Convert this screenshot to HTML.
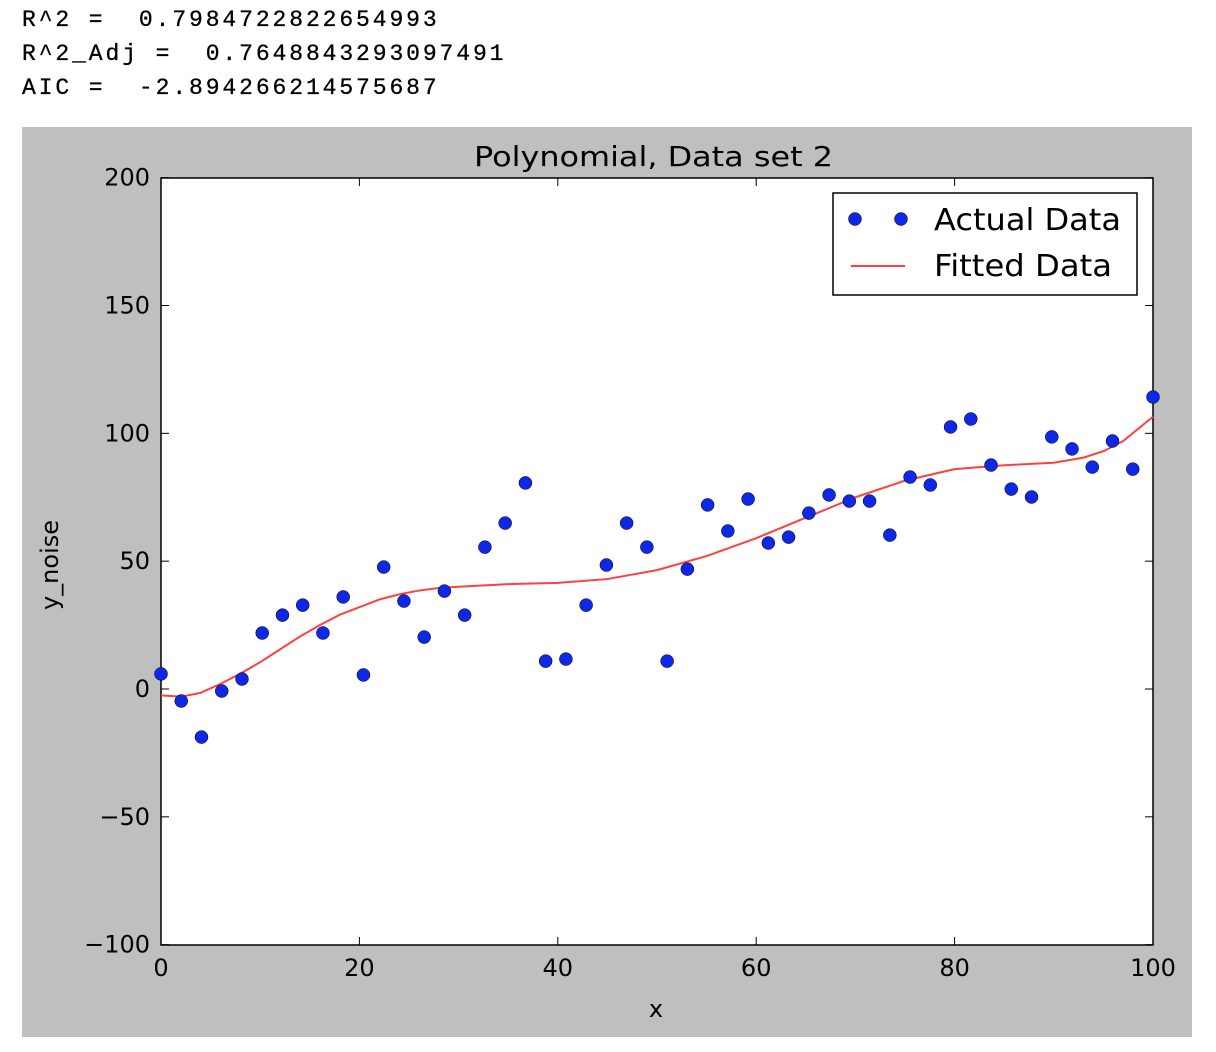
<!DOCTYPE html>
<html><head><meta charset="utf-8"><style>
body{margin:0;width:1216px;height:1052px;background:#fff;overflow:hidden;font-family:"DejaVu Sans","Liberation Sans",sans-serif}
pre{position:absolute;left:22px;top:3px;margin:0;font-family:"Liberation Mono","DejaVu Sans Mono",monospace;font-size:23px;letter-spacing:2.9px;line-height:34px;color:#000;-webkit-text-stroke:0.3px #000}
</style></head><body>
<pre>R^2 =  0.7984722822654993
R^2_Adj =  0.7648843293097491
AIC =  -2.894266214575687</pre>
<svg id="chart" width="1216" height="1052" style="position:absolute;left:0;top:0">
<rect x="22" y="127" width="1170" height="910" fill="#bfbfbf"/>
<rect x="161" y="178" width="992" height="767" fill="#fff" stroke="#000" stroke-width="1.5"/>
<g id="ticks"></g>
<g id="fit"></g>
<g id="pts"></g>
<text x="474" y="166" font-size="28" textLength="359" lengthAdjust="spacingAndGlyphs">Polynomial, Data set 2</text>
<text x="656" y="1017" font-size="24" text-anchor="middle">x</text>
<text transform="translate(58,565) rotate(-90)" font-size="24" text-anchor="middle">y_noise</text>
<g>
<rect x="833" y="193" width="304" height="102" fill="#fff" stroke="#000" stroke-width="1.5"/>
<circle cx="855" cy="219" r="6.5" fill="#0f28e6" stroke="#000" stroke-width="0.5"/>
<circle cx="901" cy="219" r="6.5" fill="#0f28e6" stroke="#000" stroke-width="0.5"/>
<text x="934" y="230" font-size="30" textLength="187" lengthAdjust="spacingAndGlyphs">Actual Data</text>
<line x1="851" y1="266" x2="905" y2="266" stroke="#ff4040" stroke-width="2"/>
<text x="934" y="276" font-size="30" textLength="178" lengthAdjust="spacingAndGlyphs">Fitted Data</text>
</g>
</svg>
<script>
const yActual=[5.9,-4.7,-18.8,-0.8,3.9,21.9,28.9,32.8,21.9,36,5.5,47.7,34.4,20.3,38.3,28.9,55.5,64.9,80.6,10.9,11.7,32.8,48.5,64.9,55.5,10.9,46.9,72,61.8,74.3,57.1,59.4,68.8,75.9,73.5,73.5,60.2,82.9,79.8,102.5,105.6,87.6,78.2,75.1,98.6,93.9,86.8,97,86,114.2];
const fitX=[0,2,4,6,8,10,12,14,16,18,20,22,24,26,28,30,35,40,45,50,55,60,65,70,75,80,85,90,93,95,97,100];
const fitY=[-2.5,-3,-1.5,2,6,10.5,15.5,20.5,25,29,32,35,37,38.5,39.5,40,41,41.5,43,46.5,52,59,67,75,81.5,86,87.5,88.5,90.5,93,97,106.5];
const xTicks=[0,20,40,60,80,100];
const yTicks=[-100,-50,0,50,100,150,200];
const X=v=>161+v*992/100, Y=v=>689-v*767/300;
const NS="http://www.w3.org/2000/svg";
const tg=document.getElementById('ticks');
function mk(tag,a,p){const e=document.createElementNS(NS,tag);for(const k in a)e.setAttribute(k,a[k]);p.appendChild(e);return e;}
xTicks.forEach(t=>{
 const l=mk('line',{x1:X(t),x2:X(t),y1:945,y2:937,stroke:'#000'},tg);
 
 
 mk('line',{x1:X(t),x2:X(t),y1:178,y2:186,stroke:'#000'},tg);
 const s=mk('text',{x:X(t),y:976,'font-size':24,'text-anchor':'middle'},tg);s.textContent=t;
 
 
});
yTicks.forEach(t=>{
 const l=mk('line',{x1:161,x2:169,y1:Y(t),y2:Y(t),stroke:'#000'},tg);
 
 
 mk('line',{x1:1145,x2:1153,y1:Y(t),y2:Y(t),stroke:'#000'},tg);
 const s=mk('text',{x:150,y:Y(t)+8,'font-size':24,'text-anchor':'end'},tg);s.textContent=String(t).replace('-','\u2212');
 
 
});
const fp=mk('polyline',{points:fitX.map((x,i)=>X(x)+','+Y(fitY[i])).join(' '),fill:'none',stroke:'#ff4040','stroke-width':2,'stroke-linejoin':'round'},document.getElementById('fit'));


const pg=document.getElementById('pts');
yActual.forEach((v,i)=>{
 const c=mk('circle',{cx:X(i*100/49),cy:Y(v),r:6.5,fill:'#0f28e6',stroke:'#000','stroke-width':0.5},pg);
 
 
});
</script>
</body></html>
